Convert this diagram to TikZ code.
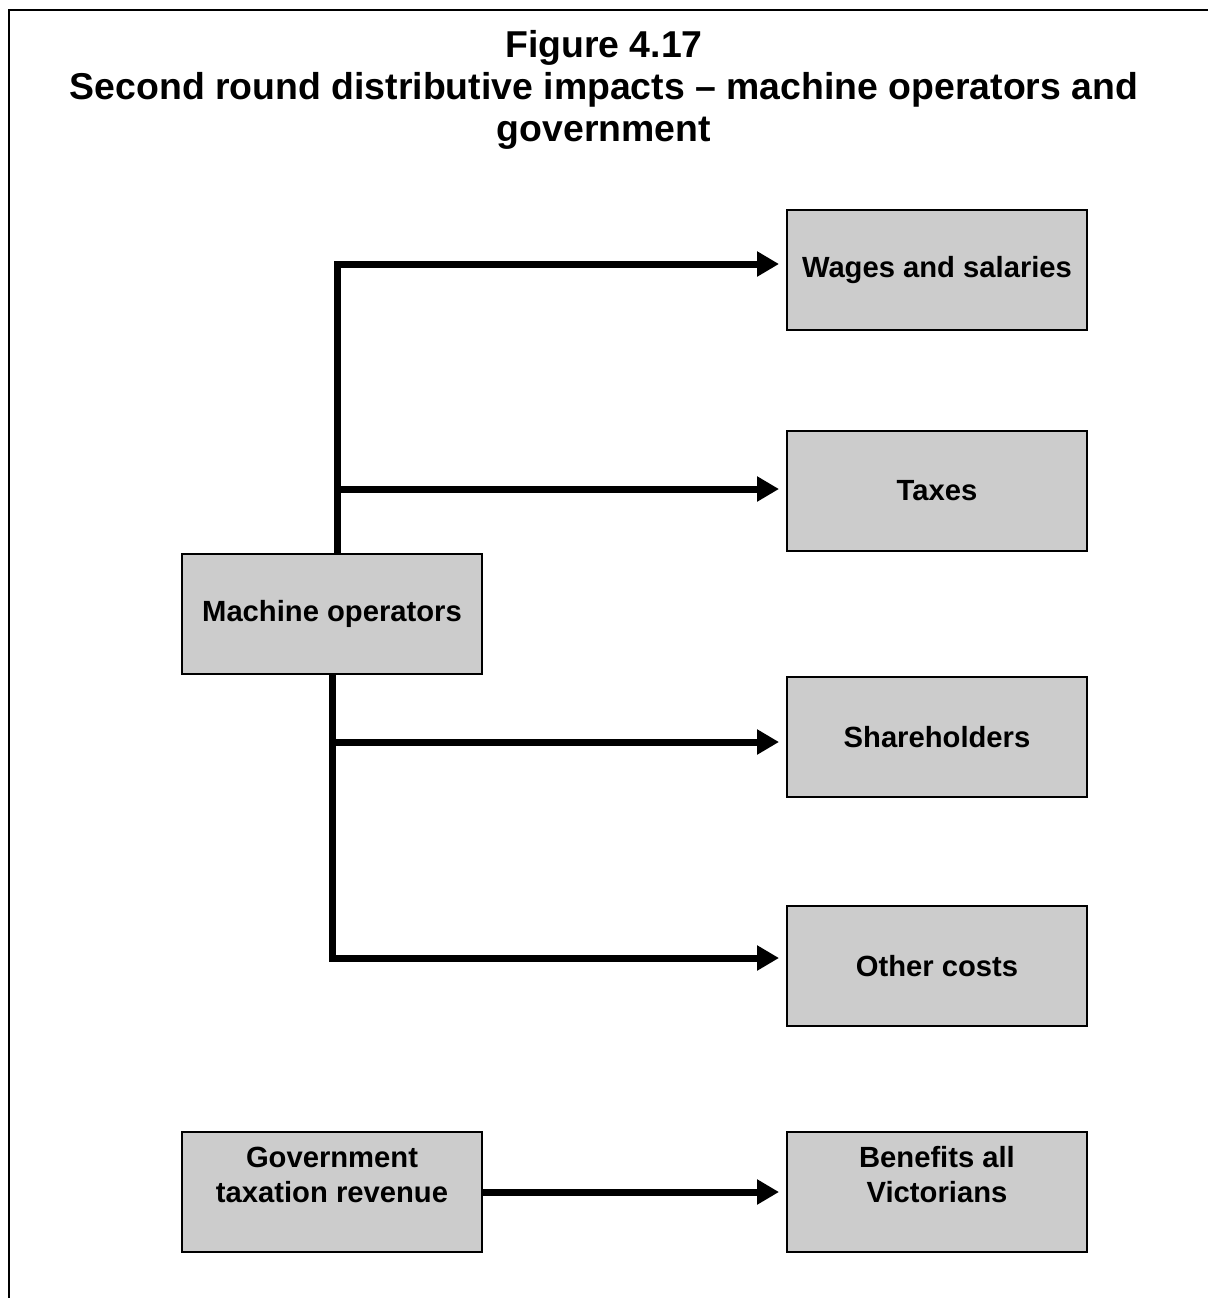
\documentclass[tikz,border=0pt]{standalone}
\usepackage{fontspec}
\setmainfont{Liberation Sans}
\usepackage{tikz}
\usetikzlibrary{arrows.meta,positioning,calc}
\usepackage{xcolor}
\definecolor{boxgray}{HTML}{CCCCCC}

\begin{document}
\begin{tikzpicture}[x=0.5pt,y=-0.5pt,
  box/.style={draw,line width=1pt,fill=boxgray,minimum width=150pt,minimum height=60pt,
    inner sep=0pt,align=center,font=\fontsize{14.6}{17.5}\selectfont\bfseries},
  conn/.style={line width=3.5pt},
  flow/.style={conn,-{Triangle[length=11pt,width=12pt]},shorten >=3.5pt}]
\useasboundingbox (0,0) rectangle (1208,1298);
\draw[line width=1pt] (9,1298) |- (1208,10);
\node[align=center,font=\fontsize{18.7}{21}\selectfont\bfseries] (title) at (604,90)
  {Figure 4.17\\Second round distributive impacts -- machine operators and\\government};
% boxes
\node[box] (mach) at (332,614) {Machine operators};
\node[box] (wages) at (937,270) {Wages and salaries};
\node[box] (taxes) at (937,491) {Taxes};
\node[box] (share) at (937,737) {Shareholders};
\node[box] (other) at (937,966) {Other costs};
\node[box] (govt) at (332,1192) {Government\\taxation revenue\\\mbox{}};
\node[box] (benef) at (937,1192) {Benefits all\\Victorians\\\mbox{}};
% connectors
\draw[flow] ([xshift=2.5pt]mach.north) |- ([yshift=3pt]wages.west);
\draw[flow] ([xshift=2.5pt]mach.north) |- ([yshift=1pt]taxes.west);
\draw[flow] (mach.south) |- ([yshift=-2.5pt]share.west);
\draw[flow] (mach.south) |- ([yshift=4pt]other.west);
\draw[flow] (govt.east) -- (benef.west);
\end{tikzpicture}
\end{document}
